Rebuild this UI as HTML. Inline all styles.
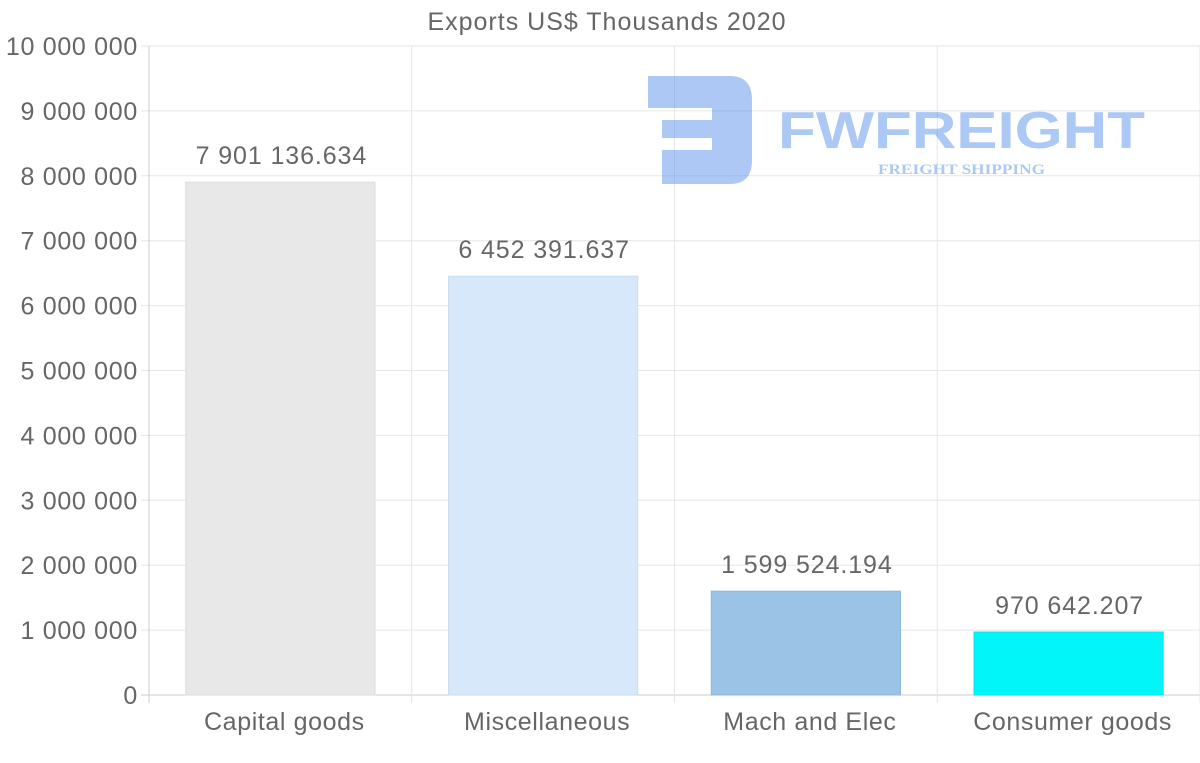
<!DOCTYPE html>
<html><head><meta charset="utf-8"><style>
body{margin:0;background:#fff;width:1200px;height:763px;overflow:hidden}
svg{display:block;font-family:"Liberation Sans",sans-serif}
</style></head><body>
<svg id="chart" width="1200" height="763">
<text x="607" y="30" text-anchor="middle" font-size="25" letter-spacing="1.0" fill="#666">Exports US$ Thousands 2020</text>
<g id="grid"></g>
<g opacity="0.45">
<path d="M648 76 H730 Q752 76 752 100 V160 Q752 184 730 184 H662 V150 H712 V138 H662 V120 H712 V108 H648 Z" fill="#4a86e8"/>
<text x="778" y="148" font-size="52" font-weight="bold" fill="#4a86e8" textLength="367" lengthAdjust="spacingAndGlyphs">FWFREIGHT</text>
<text x="878" y="174" font-size="15" font-weight="bold" fill="#4a86e8" textLength="167" lengthAdjust="spacingAndGlyphs" font-family="Liberation Serif">FREIGHT SHIPPING</text>
</g>
<g id="bars"></g>
<g id="axes"></g>
</svg>
<script>
const categories=["Capital goods","Miscellaneous","Mach and Elec","Consumer goods"];
const values=[7901136.634,6452391.637,1599524.194,970642.207];
const valueLabels=["7 901 136.634","6 452 391.637","1 599 524.194","970 642.207"];
const yTicks=[0,1000000,2000000,3000000,4000000,5000000,6000000,7000000,8000000,9000000,10000000];
const yTickLabels=["0","1 000 000","2 000 000","3 000 000","4 000 000","5 000 000","6 000 000","7 000 000","8 000 000","9 000 000","10 000 000"];
const colors=["#e8e8e8","#d6e8f9","#9ac3e6","#00f6f9"];
const borders=["#dcdcdc","#c8ddf2","#8cb8de","#00e8ee"];
const L=149,R=1200,T=46,B=695,yMax=10000000;
const ns="http://www.w3.org/2000/svg";
const y=v=>B-(v/yMax)*(B-T);
const bw=(R-L)/categories.length;
const xc=i=>L+bw*(i+0.5);
function mk(tag,attrs,parent,text){const e=document.createElementNS(ns,tag);for(const k in attrs)e.setAttribute(k,attrs[k]);if(text!==undefined)e.textContent=text;document.getElementById(parent).appendChild(e);return e;}
yTicks.forEach((t,i)=>{
 const g=mk("line",{x1:L-8,x2:R,y1:y(t),y2:y(t),stroke:i===0?"#ccc":"#e6e6e6","stroke-width":1},"grid");
 
 
 const lb=mk("text",{x:138,y:y(t)+9,"text-anchor":"end","font-size":25,"letter-spacing":0.7,fill:"#666"},"axes",yTickLabels[i]);
 
 
});
for(let i=0;i<=categories.length;i++){
 const x=L+bw*i;
 const g=mk("line",{x1:x,x2:x,y1:T,y2:B+8,stroke:i===0?"#ccc":"#e6e6e6","stroke-width":1},"grid");
 
 
}
categories.forEach((c,i)=>{
 const w=bw*0.72;
 const r=mk("rect",{x:xc(i)-w/2,y:y(values[i]),width:w,height:B-y(values[i]),fill:colors[i],stroke:borders[i],"stroke-width":1},"bars");
 
 
 const v=mk("text",{x:xc(i)+1,y:y(values[i])-18,"text-anchor":"middle","font-size":25,"letter-spacing":0.9,fill:"#666"},"bars",valueLabels[i]);
 
 
 const xl=mk("text",{x:xc(i)+4,y:730,"text-anchor":"middle","font-size":25,"letter-spacing":0.6,fill:"#666"},"axes",c);
 
 
});
</script>
</body></html>
